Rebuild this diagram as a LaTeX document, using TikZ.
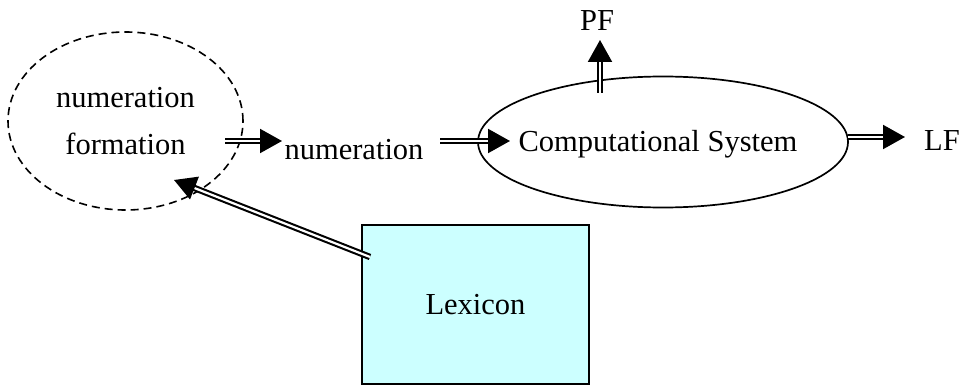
\documentclass[tikz,border=0pt]{standalone}
\usepackage{fontspec}
\setmainfont{Liberation Serif}
\usetikzlibrary{shapes.geometric,arrows.meta}
\definecolor{lexfill}{RGB}{204,255,255}
\begin{document}
\begin{tikzpicture}[x=1pt,y=-1pt,
  txt/.style={font=\fontsize{30.5}{47}\selectfont, inner sep=0pt},
  dbl/.style={double, double distance=2.2pt, line width=2.1pt,
    -{Triangle[length=22pt,width=24pt]}},
  dashedell/.style={ellipse, draw, dashed, dash pattern=on 8pt off 5pt, line width=1.6pt, inner sep=0pt},
  solidell/.style={ellipse, draw, line width=1.7pt, inner sep=0pt},
  lexbox/.style={rectangle, draw, line width=2pt, fill=lexfill, inner sep=0pt}]
\useasboundingbox (0,0) rectangle (969,385);
% nodes
\node[dashedell, minimum width=235pt, minimum height=178pt, txt, align=center] (nf) at (125.5,121) {numeration\\formation};
\node[txt, anchor=base] (num) at (354,160) {numeration};
\node[solidell, minimum width=370pt, minimum height=131pt] (cs) at (663,142) {};
\node[txt, anchor=base] (cstext) at (658,152) {Computational System};
\node[txt, anchor=base] (pf) at (597,31) {PF};
\node[txt, anchor=base] (lf) at (942,150) {LF};
\node[lexbox, minimum width=227pt, minimum height=159pt, txt] (lex) at (475.5,304.5) {Lexicon};
% connector end points
\coordinate (a1s) at (225,141);
\coordinate (a1e) at (282,141);
\coordinate (a2s) at (440,141);
\coordinate (a2e) at (510,141);
\coordinate (a3s) at (600,93);
\coordinate (a3e) at (600,40);
\coordinate (a4s) at (848,137);
\coordinate (a4e) at (905,137);
\coordinate (a5s) at (370,257);
\coordinate (a5e) at (174,180);
% connectors
\draw[dbl] (a1s) -- (a1e);
\draw[dbl] (a2s) -- (a2e);
\draw[dbl] (a3s) -- (a3e);
\draw[dbl] (a4s) -- (a4e);
\draw[dbl] (a5s) -- (a5e);
\end{tikzpicture}
\end{document}
